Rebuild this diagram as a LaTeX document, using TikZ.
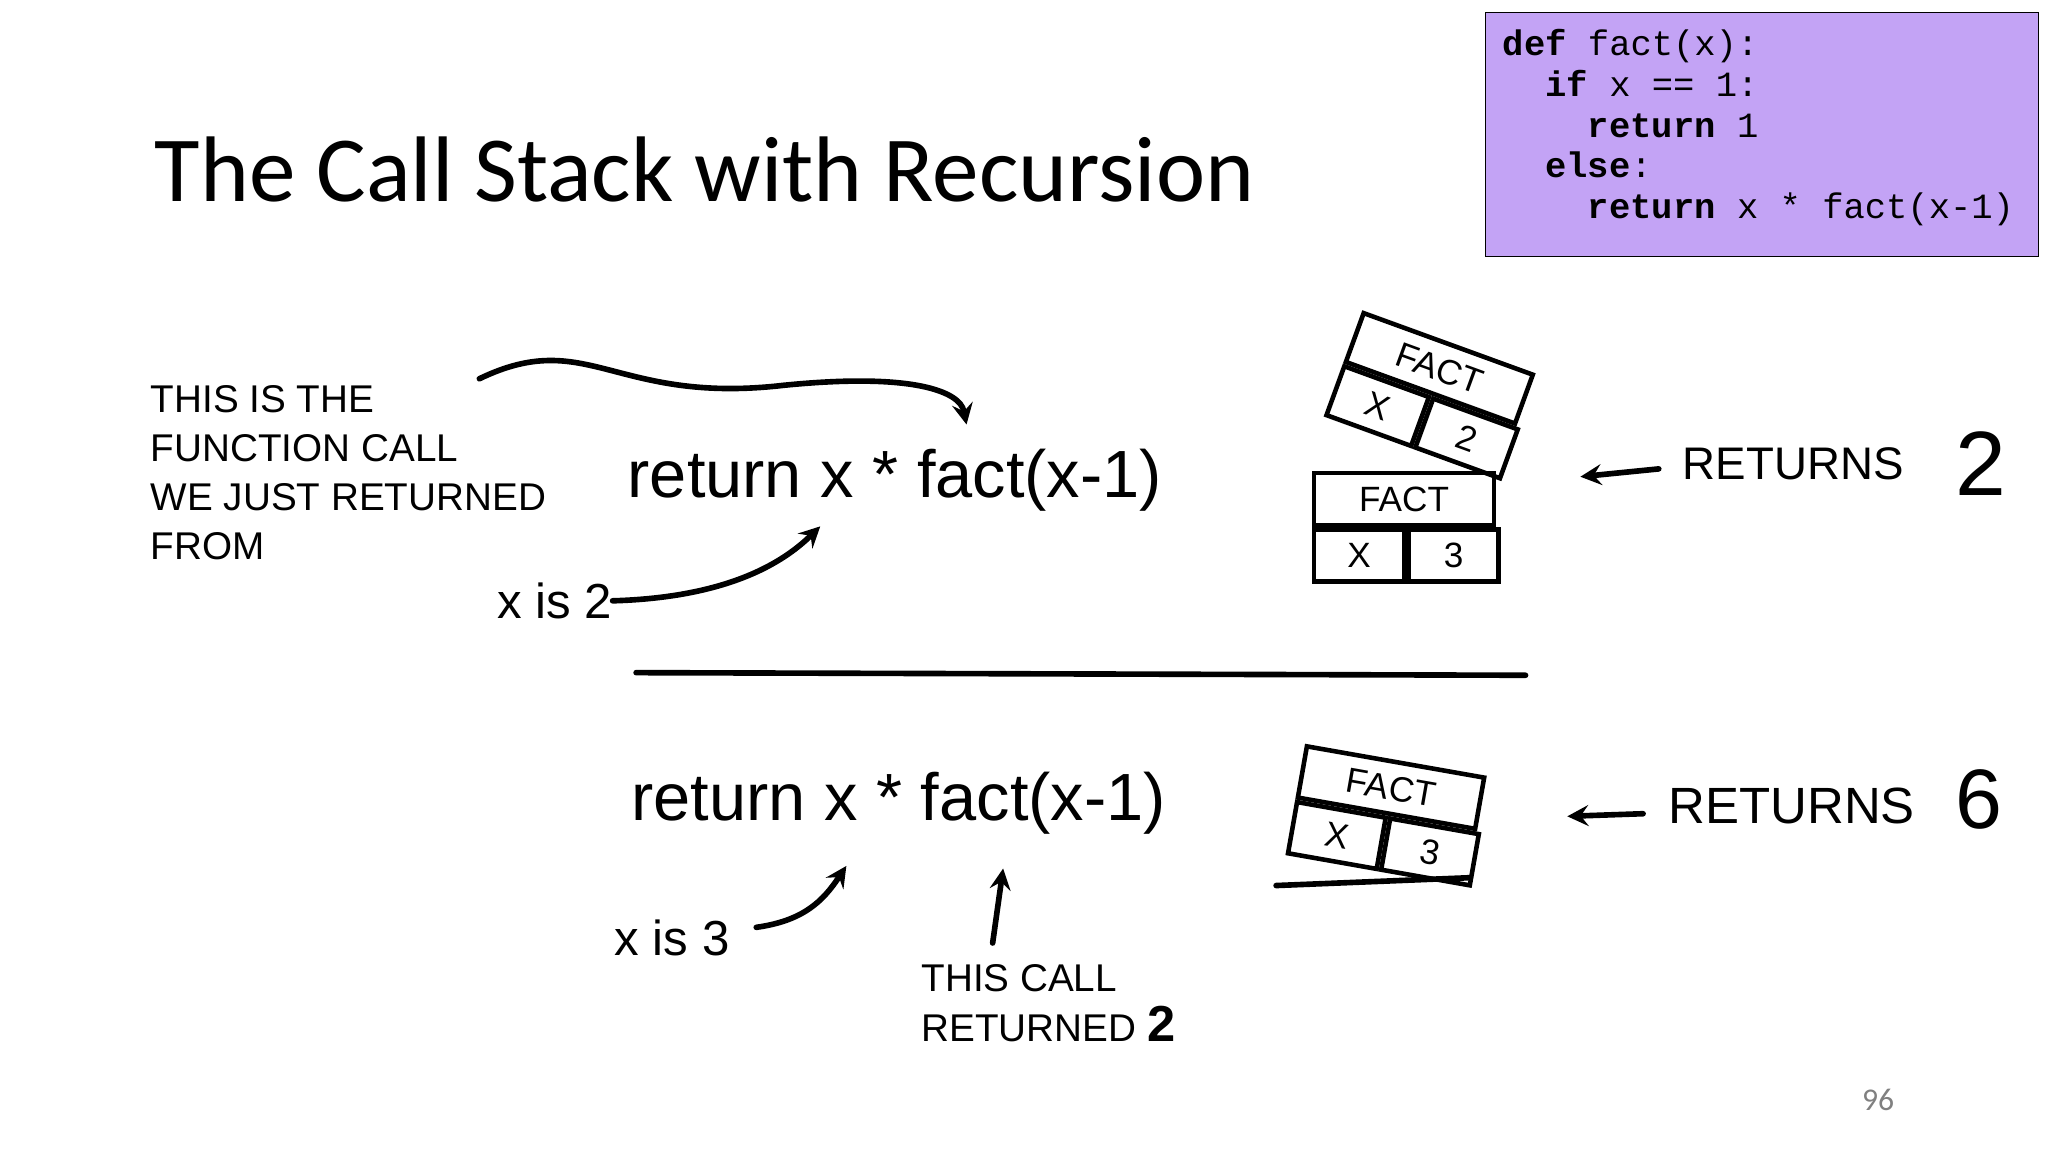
\documentclass[tikz,border=0pt]{standalone}
\usepackage{fontspec}
\setmainfont{Carlito}
\newfontfamily\hand{Liberation Sans}
\newfontfamily\codefont{Liberation Mono}
\usetikzlibrary{positioning}
\tikzset{>=stealth}
\definecolor{codebg}{HTML}{C3A3F5}
\tikzset{
  hand/.style={font=\hand, inner sep=0pt, anchor=west},
  pen/.style={line width=1.6pt, line cap=round},
  cell/.style={draw, line width=1.3pt, minimum height=0.52cm, inner sep=0pt, font=\hand\normalsize}
}
\newcommand{\stackframe}[4]{%
  \begin{scope}[shift={#2}, rotate=#3, transform shape]
    \node[cell, minimum width=1.8cm] (#1fact) at (0,0) {FACT};
    \node[cell, minimum width=0.9cm, below=0pt of #1fact.south west, anchor=north west] (#1x) {X};
    \node[cell, minimum width=0.9cm, right=0pt of #1x] (#1v) {#4};
  \end{scope}}

\begin{document}
\begin{tikzpicture}[x=0.013061cm, y=-0.013061cm]
  \useasboundingbox (0,0) rectangle (1568,882);

  % title and code
  \node[anchor=west, inner sep=0pt, font=\fontsize{26.5}{30}\selectfont] (title) at (118,130) {The Call Stack with Recursion};
  \node[draw, fill=codebg, minimum width=5.53cm, minimum height=2.44cm, anchor=north west] (code) at (1137,9) {};
  \node[anchor=north west, inner sep=0pt, align=left, font=\codefont\fontsize{10.1}{11.6}\selectfont] (src) at (1150,22)
    {\textbf{def} fact(x):\\
     \ \ \textbf{if} x == 1:\\
     \ \ \ \ \textbf{return} 1\\
     \ \ \textbf{else}:\\
     \ \ \ \ \textbf{return} x * fact(x-1)};

  % upper half
  \node[hand, align=left, font=\hand\fontsize{11}{14}\selectfont] (note) at (115,362) {THIS IS THE\\FUNCTION CALL\\WE JUST RETURNED\\FROM};
  \node[hand, font=\hand\fontsize{19}{24}\selectfont] (ret1) at (480,368) {return x * fact(x-1)};
  \node[hand, font=\hand\fontsize{14}{17}\selectfont] (xis2) at (380,460) {x is 2};
  \coordinate (from1) at (367,290);
  \coordinate (to1) at (740,325);
  \coordinate (to2) at (628,403);
  \draw[pen, ->] (from1) .. controls (450,250) and (470,310) .. (600,295) .. controls (700,285) and (735,300) .. (to1);
  \draw[pen, ->] (xis2.east) .. controls (540,458) and (590,440) .. (to2);
  \stackframe{ta}{(1102,282)}{-20}{2}
  \stackframe{tb}{(1075,382)}{0}{3}
  \node[hand, font=\hand\fontsize{13}{16}\selectfont] (r2) at (1288,355) {RETURNS};
  \node[hand, font=\hand\fontsize{26}{30}\selectfont] (r2val) at (1497,355) {2};
  \coordinate (r2tip) at (1210,365);
  \draw[pen, <-] (r2tip) -- ++(60,-6);

  \coordinate (divl) at (487,515);
  \coordinate (divr) at (1168,517);
  \draw[pen] (divl) -- (divr);

  % lower half
  \node[hand, font=\hand\fontsize{19}{24}\selectfont] (ret2) at (483,615) {return x * fact(x-1)};
  \node[hand, font=\hand\fontsize{14}{17}\selectfont] (xis3) at (470,718) {x is 3};
  \coordinate (to3) at (648,663);
  \draw[pen, ->] (xis3.east) ++(20,-8) .. controls (615,705) and (630,690) .. (to3);
  \stackframe{ba}{(1065,603)}{-10}{3}
  \coordinate (bl) at (977,678);
  \coordinate (br) at (1125,672);
  \draw[pen] (bl) -- (br);
  \node[hand, font=\hand\fontsize{14.5}{18}\selectfont] (r6) at (1277,617) {RETURNS};
  \node[hand, font=\hand\fontsize{24}{28}\selectfont] (r6val) at (1497,612) {6};
  \coordinate (r6tip) at (1200,625);
  \draw[pen, <-] (r6tip) -- ++(58,-2);
  \node[hand, align=left, font=\hand\fontsize{11}{14}\selectfont] (call) at (705,768) {THIS CALL\\RETURNED \textbf{\Large 2}};
  \coordinate (up) at (768,665);
  \coordinate (upfoot) at (760,722);
  \draw[pen, ->] (upfoot) -- (up);

  \node[font=\small, text=gray] (page) at (1438,842) {96};
\end{tikzpicture}
\end{document}
